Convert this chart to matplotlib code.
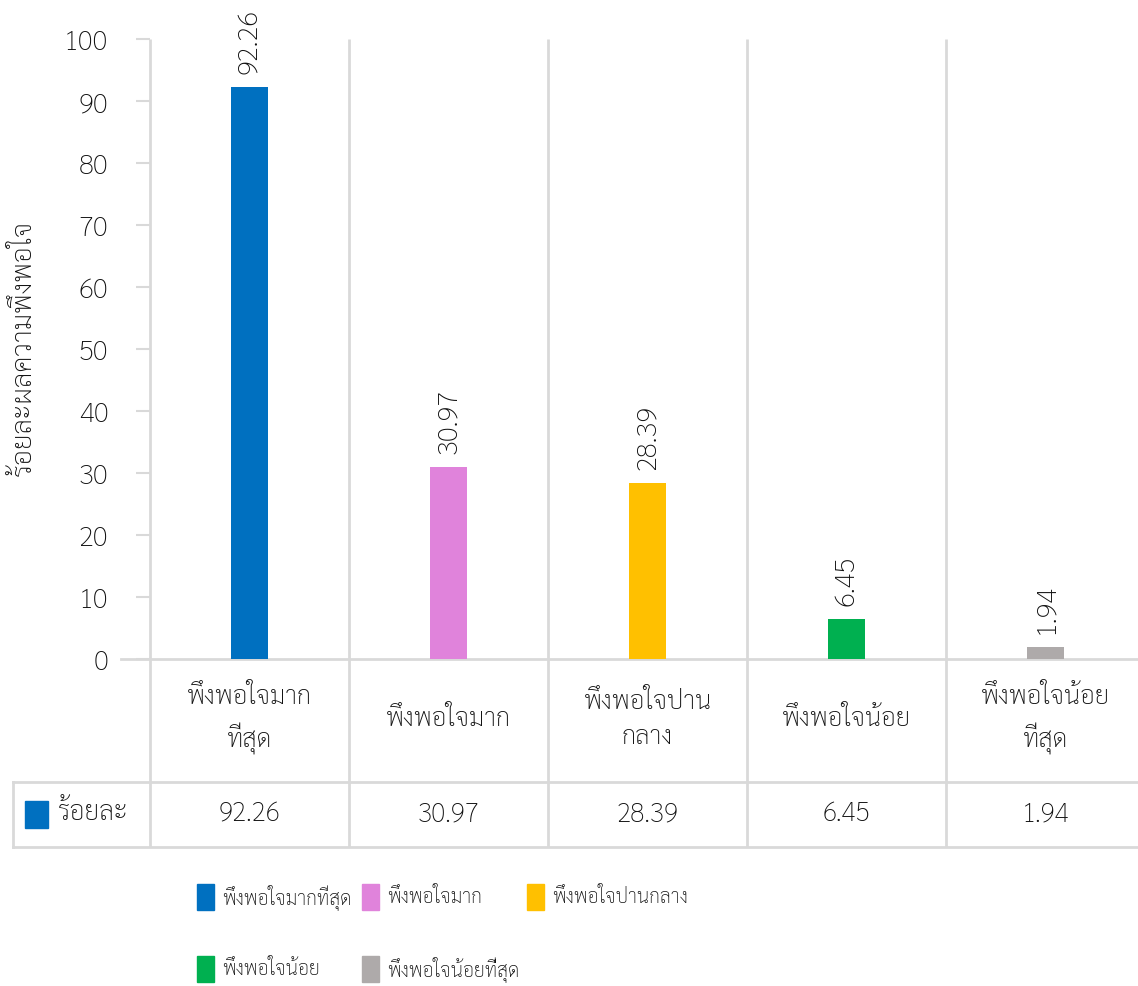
import matplotlib
matplotlib.use('Agg')
import matplotlib.pyplot as plt
from matplotlib.patches import Rectangle
from matplotlib.transforms import blended_transform_factory

plt.rcParams['font.family'] = ['Sarabun', 'DejaVu Sans']
plt.rcParams['font.weight'] = 'light'

categories = ['พึงพอใจมาก\nที่สุด', 'พึงพอใจมาก', 'พึงพอใจปาน\nกลาง', 'พึงพอใจน้อย', 'พึงพอใจน้อย\nที่สุด']
legend_names = ['พึงพอใจมากที่สุด', 'พึงพอใจมาก', 'พึงพอใจปานกลาง', 'พึงพอใจน้อย', 'พึงพอใจน้อยที่สุด']
values = [92.26, 30.97, 28.39, 6.45, 1.94]
value_labels = ['92.26', '30.97', '28.39', '6.45', '1.94']
colors = ['#0070C0', '#E083DB', '#FFC000', '#00B050', '#AEAAAA']
series_name = 'ร้อยละ'
ylabel = 'ร้อยละผลความพึงพอใจ'
yticks = [0, 10, 20, 30, 40, 50, 60, 70, 80, 90, 100]

W, H = 1138, 987
fig = plt.figure(figsize=(W / 100, H / 100), dpi=100)
GRID = '#D9D9D9'
TXT = '#111111'

# overlay in pixel coordinates (y downward)
ov = fig.add_axes([0, 0, 1, 1], zorder=0)
ov.set_xlim(0, W)
ov.set_ylim(H, 0)
ov.axis('off')

x0, x1 = 150, 1145
ytop, ybot = 40, 660
ax = fig.add_axes([x0 / W, 1 - ybot / H, (x1 - x0) / W, (ybot - ytop) / H], zorder=1)
ax.patch.set_alpha(0)
n = len(values)
xs = list(range(n))
ax.bar(xs, values, width=0.19, color=colors, zorder=3)
ax.set_xlim(-0.5, n - 0.5)
ax.set_ylim(0, 100)
ax.set_yticks(yticks)
ax.set_yticklabels([str(t) for t in yticks], fontsize=20, color=TXT)
ax.tick_params(axis='y', length=10, color=GRID, width=1.5, pad=20)
ax.set_xticks([])
for s in ['top', 'right', 'bottom', 'left']:
    ax.spines[s].set_visible(False)

for x, v, lab in zip(xs, values, value_labels):
    ax.annotate(lab, (x, v), xytext=(0, 14), textcoords='offset pixels',
                rotation=90, ha='center', va='bottom', fontsize=20, color=TXT)

# y-axis title
ov.text(24, 348, ylabel, rotation=90, ha='center', va='center', fontsize=20, color=TXT)

bt = blended_transform_factory(ax.transData, ov.transData)
# vertical grid lines at category boundaries
for b in [i - 0.5 for i in range(n + 1)]:
    ov.plot([b, b], [ytop, 848], transform=bt, color=GRID, lw=2, zorder=0.5, solid_capstyle='butt')
# horizontal table lines
ov.plot([121, W], [ybot, ybot], color=GRID, lw=2)
ov.plot([13, W], [783, 783], color=GRID, lw=2)
ov.plot([13, W], [848, 848], color=GRID, lw=2)
ov.plot([13, 13], [783, 848], color=GRID, lw=2)

# category labels and values in table
for x, cat, lab in zip(xs, categories, value_labels):
    ov.text(x, 720, cat, transform=bt, ha='center', va='center', fontsize=18.5,
            color=TXT, linespacing=1.55)
    ov.text(x, 814, lab, transform=bt, ha='center', va='center', fontsize=19, color=TXT)
ov.add_patch(Rectangle((25, 802), 23, 27, color=colors[0]))
ov.text(58, 813, series_name, ha='left', va='center', fontsize=19, color=TXT)

# legend
leg_pos = [(197, 885), (362, 885), (527, 885), (197, 957), (362, 957)]
for (lx, ly), name, c in zip(leg_pos, legend_names, colors):
    ov.add_patch(Rectangle((lx, ly), 17, 26, color=c))
    ov.text(lx + 25, ly + 12, name, ha='left', va='center', fontsize=14, color=TXT)

fig.savefig('out.png', dpi=100)
